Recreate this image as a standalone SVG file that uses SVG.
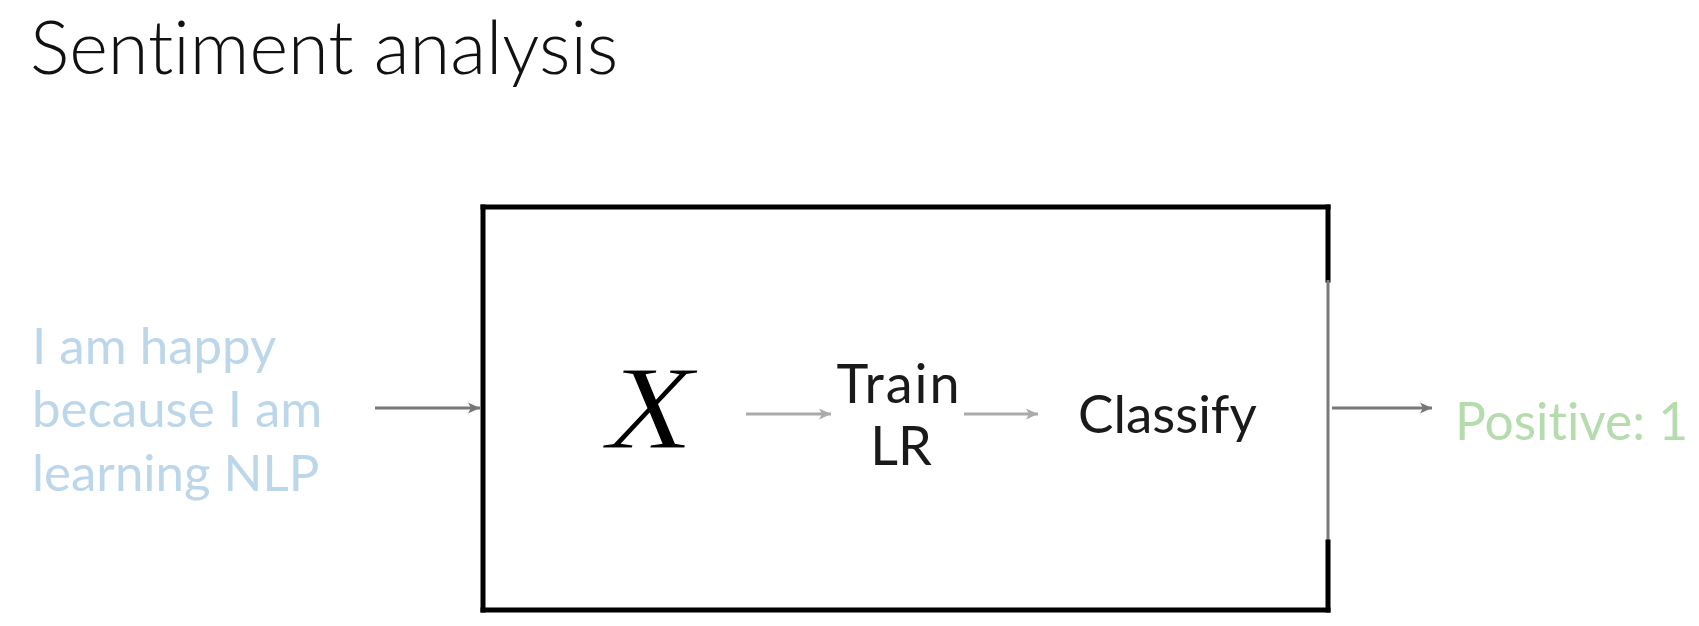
<svg xmlns="http://www.w3.org/2000/svg" width="1699" height="626" viewBox="0 0 1699 626">
<style>
.sans{font-family:Lato,"Open Sans","Liberation Sans",sans-serif;font-variant-ligatures:none}
.edge{stroke:#000;stroke-width:5;fill:none;stroke-linecap:square}
.c-dark{stroke:#777;stroke-width:3;fill:none}
.c-light{stroke:#aaa;stroke-width:3;fill:none}
</style>
<defs>
<marker id="ahDark" markerUnits="userSpaceOnUse" markerWidth="14" markerHeight="14" refX="12" refY="7" orient="auto">
<path d="M0,1.5 L12,7 L0,12.5 L3,7 Z" fill="#777"/>
</marker>
<marker id="ahLight" markerUnits="userSpaceOnUse" markerWidth="14" markerHeight="14" refX="12" refY="7" orient="auto">
<path d="M0,1.5 L12,7 L0,12.5 L3,7 Z" fill="#aaa"/>
</marker>
</defs>
<rect width="1699" height="626" fill="#fff"/>
<g id="title">
<text class="sans" x="30" y="74" font-size="74" font-weight="300" fill="#111">Sentiment analysis</text>
</g>
<g id="input">
<text class="sans" font-size="51" fill="#bcd6ea">
<tspan x="32" y="364">I am happy</tspan>
<tspan x="32" y="427">because I am</tspan>
<tspan x="32" y="491">learning NLP</tspan>
</text>
</g>
<g id="box">
<line class="edge" x1="483" y1="207" x2="1328" y2="207"/>
<line class="edge" x1="483" y1="610" x2="1328" y2="610"/>
<line class="edge" x1="483" y1="207" x2="483" y2="610"/>
<line class="edge" x1="1328" y1="207" x2="1328" y2="280"/>
<line x1="1328" y1="280" x2="1328" y2="542" stroke="#7a7a7a" stroke-width="3"/>
<line class="edge" x1="1328" y1="542" x2="1328" y2="610"/>
</g>
<g id="x-node">
<text transform="translate(607,448) scale(1.2,1)" font-family="'Liberation Serif',serif" font-style="italic" font-size="118" fill="#000" stroke="#fff" stroke-width="1.2">X</text>
</g>
<g id="train-node">
<text class="sans" font-size="54" fill="#1a1a1a" text-anchor="middle">
<tspan x="906" y="403" letter-spacing="2">Train</tspan>
<tspan x="901" y="465">LR</tspan>
</text>
</g>
<g id="classify-node">
<text class="sans" x="1078" y="433" font-size="53" fill="#1a1a1a">Classify</text>
</g>
<g id="output">
<text class="sans" x="1455" y="440" font-size="51.5" fill="#b5dcac">Positive: 1</text>
</g>
<g id="connectors">
<line class="c-dark" x1="375" y1="408" x2="480" y2="408" marker-end="url(#ahDark)"/>
<line class="c-light" x1="746" y1="414" x2="831" y2="414" marker-end="url(#ahLight)"/>
<line class="c-light" x1="964" y1="414" x2="1038" y2="414" marker-end="url(#ahLight)"/>
<line class="c-dark" x1="1332" y1="408" x2="1432" y2="408" marker-end="url(#ahDark)"/>
</g>
</svg>
